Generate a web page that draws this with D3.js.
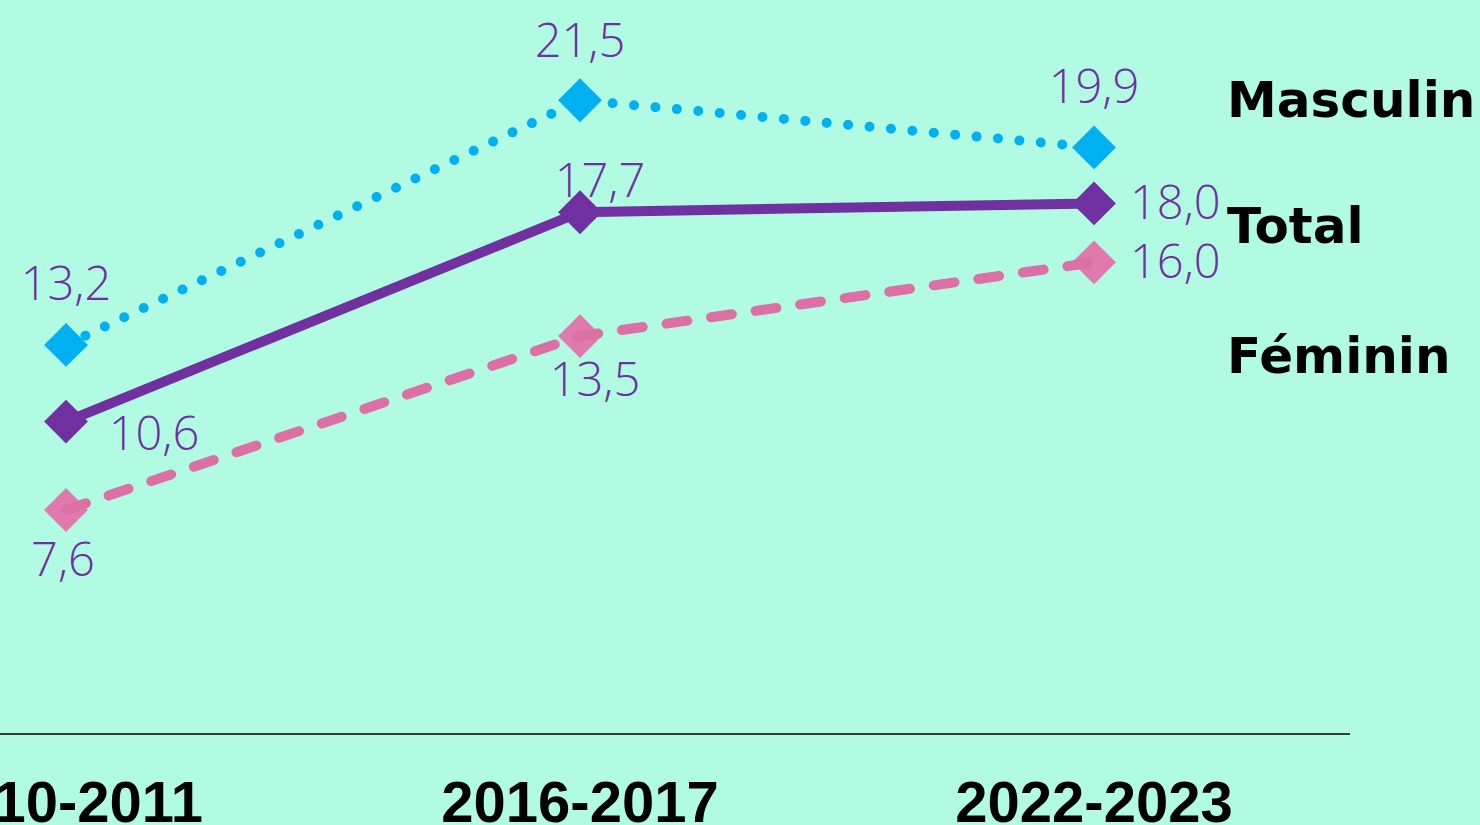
<!DOCTYPE html>
<html>
<head>
<meta charset="utf-8">
<script src="https://cdn.jsdelivr.net/npm/d3@7"></script>
<style>
  html, body { margin: 0; padding: 0; background: #b2fbe3; overflow: hidden; }
  #chart { width: 1480px; height: 825px; }
</style>
</head>
<body>
<div id="chart"></div>
<script>
// data
const periods = ["2010-2011", "2016-2017", "2022-2023"];
const masculin = [13.2, 21.5, 19.9];
const total = [10.6, 17.7, 18.0];
const feminin = [7.6, 13.5, 16.0];
const seriesNames = ["Masculin", "Total", "Féminin"];

(function () {
  const svgWidth = 1480;
  const svgHeight = 825;

  const svg = d3.select("#chart")
    .append("svg")
    .attr("width", svgWidth)
    .attr("height", svgHeight);

  svg.append("rect")
    .attr("width", svgWidth)
    .attr("height", svgHeight)
    .attr("fill", "#b2fbe3");

  // scales
  const x = d3.scalePoint()
    .domain(periods)
    .range([66, 1094]);

  const y = d3.scaleLinear()
    .domain([0, 24.9])
    .range([734, 0]);

  // axis line + labels
  svg.append("line")
    .attr("x1", 0)
    .attr("x2", 1350)
    .attr("y1", y(0))
    .attr("y2", y(0))
    .attr("stroke", "#3a3a3a")
    .attr("stroke-width", 2);

  svg.selectAll(".xlabel")
    .data(periods)
    .join("text")
    .attr("class", "xlabel")
    .attr("x", d => x(d))
    .attr("y", 822)
    .attr("text-anchor", "middle")
    .style("font-family", "'Liberation Sans', Arial, sans-serif")
    .style("font-weight", "bold")
    .style("font-size", "58px")
    .attr("fill", "#000")
    .text(d => d);

  const series = [
    { name: "Masculin", values: masculin, color: "#00b0f0", marker: "#00b0f0", width: 10, dash: "0 21.5",
      labelDx: [0, 0, 0], labelDy: [-45, -43, -44], anchor: ["middle", "middle", "middle"] },
    { name: "Total", values: total, color: "#7030a0", marker: "#7030a0", width: 10, dash: null,
      labelDx: [88, 20, 36], labelDy: [28, -15, 16], anchor: ["middle", "middle", "start"] },
    { name: "Féminin", values: feminin, color: "#dc6fa4", marker: "#e07aad", width: 10, dash: "21 24",
      labelDx: [-3, 15, 36], labelDy: [66, 60, 16], anchor: ["middle", "middle", "start"] }
  ];

  const line = d3.line()
    .x((d, i) => x(periods[i]))
    .y(d => y(d));

  const diamond = d3.symbol().type(d3.symbolSquare).size(960);

  series.forEach(s => {
    // markers
    svg.selectAll(null)
      .data(s.values)
      .join("path")
      .attr("d", diamond)
      .attr("transform", (d, i) => `translate(${x(periods[i])}, ${y(d)}) rotate(45)`)
      .attr("fill", s.marker);

    // line
    svg.append("path")
      .datum(s.values)
      .attr("fill", "none")
      .attr("stroke", s.color)
      .attr("stroke-width", s.width)
      .attr("stroke-linecap", "round")
      .attr("stroke-dasharray", s.dash)
      .attr("d", line);
  });

  // value labels
  series.forEach(s => {
    svg.selectAll(null)
      .data(s.values)
      .join("text")
      .attr("x", (d, i) => x(periods[i]) + s.labelDx[i])
      .attr("y", (d, i) => y(d) + s.labelDy[i])
      .attr("text-anchor", (d, i) => s.anchor[i])
      .style("font-family", "'Open Sans', 'Noto Sans', sans-serif")
      .style("font-weight", 350)
      .style("font-size", "47px")
      .attr("fill", "#7030a0")
      .text(d => d.toFixed(1).replace(".", ","));
  });

  // series names
  const legendY = [117, 243, 373];
  svg.selectAll(".legend")
    .data(seriesNames)
    .join("text")
    .attr("class", "legend")
    .attr("x", 1227)
    .attr("y", (d, i) => legendY[i])
    .style("font-family", "'DejaVu Sans', sans-serif")
    .style("font-weight", "bold")
    .style("font-size", "50px")
    .attr("fill", "#000")
    .text(d => d);
})();
</script>
</body>
</html>
